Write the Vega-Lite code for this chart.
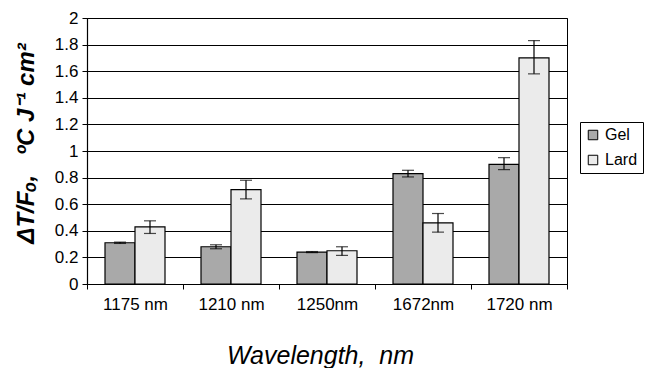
{
  "$schema": "https://vega.github.io/schema/vega-lite/v6.json",
  "width": 480,
  "height": 266,
  "autosize": {"type": "none"},
  "padding": {"left": 87, "top": 18, "right": 78, "bottom": 84},
  "background": "white",
  "config": {
    "font": "Liberation Sans",
    "view": {"stroke": "black", "strokeWidth": 1},
    "axis": {"labelFont": "Liberation Sans", "titleFont": "Liberation Sans", "domainColor": "black", "tickColor": "black", "labelColor": "black", "titleColor": "black", "gridColor": "black", "gridOpacity": 1},
    "legend": {"labelFont": "Liberation Sans"}
  },
  "data": {
    "values": [
      {"wl": "1175 nm", "series": "Gel", "value": 0.31, "lo": 0.305, "hi": 0.315},
      {"wl": "1175 nm", "series": "Lard", "value": 0.43, "lo": 0.38, "hi": 0.475},
      {"wl": "1210 nm", "series": "Gel", "value": 0.28, "lo": 0.265, "hi": 0.295},
      {"wl": "1210 nm", "series": "Lard", "value": 0.71, "lo": 0.64, "hi": 0.78},
      {"wl": "1250nm", "series": "Gel", "value": 0.24, "lo": 0.236, "hi": 0.244},
      {"wl": "1250nm", "series": "Lard", "value": 0.25, "lo": 0.215, "hi": 0.28},
      {"wl": "1672nm", "series": "Gel", "value": 0.83, "lo": 0.805, "hi": 0.855},
      {"wl": "1672nm", "series": "Lard", "value": 0.46, "lo": 0.39, "hi": 0.53},
      {"wl": "1720 nm", "series": "Gel", "value": 0.9, "lo": 0.86, "hi": 0.95},
      {"wl": "1720 nm", "series": "Lard", "value": 1.7, "lo": 1.58, "hi": 1.83}
    ]
  },
  "encoding": {
    "x": {
      "field": "wl", "type": "nominal", "sort": null,
      "scale": {"paddingInner": 0, "paddingOuter": 0},
      "axis": {
        "title": "Wavelength,\u00a0\u00a0nm", "labelAngle": 0, "tickBand": "extent", "tickSize": 5,
        "labelFontSize": 17, "labelPadding": 7, "domainWidth": 1.2,
        "titleFontSize": 25, "titleFontStyle": "italic", "titleFontWeight": "normal",
        "titleBaseline": "alphabetic", "titleY": 79, "titleX": 233
      }
    },
    "xOffset": {"field": "series", "type": "nominal", "scale": {"paddingInner": 0, "paddingOuter": 0.6}}
  },
  "layer": [
    {
      "mark": {"type": "bar", "stroke": "black", "strokeWidth": 1.2},
      "encoding": {
        "y": {
          "field": "value", "type": "quantitative",
          "scale": {"domain": [0, 2], "nice": false},
          "axis": {
            "values": [0, 0.2, 0.4, 0.6, 0.8, 1, 1.2, 1.4, 1.6, 1.8, 2],
            "format": ".1~f", "labelOverlap": false, "labelFlush": false,
            "title": "ΔT/Fₒ,\u00a0\u00a0\u00a0ºC J⁻¹ cm²", "grid": true, "tickSize": 5, "labelFontSize": 17,
            "labelPadding": 4, "domainWidth": 1.2,
            "titleFontSize": 24, "titleFontStyle": "italic", "titleFontWeight": "bold",
            "titleX": -54, "titleY": 125, "titleAlign": "center", "titleBaseline": "alphabetic"
          }
        },
        "fill": {
          "field": "series", "type": "nominal",
          "scale": {"domain": ["Gel", "Lard"], "range": ["#a9a9a9", "#ebebeb"]},
          "legend": {
            "title": null, "orient": "none", "legendX": 493, "legendY": 104,
            "symbolType": "square", "symbolSize": 90, "symbolStrokeColor": "black", "symbolStrokeWidth": 1,
            "labelFontSize": 16, "labelColor": "black", "strokeColor": "black", "padding": 5,
            "rowPadding": 9, "labelOffset": 4, "fillColor": "white"
          }
        }
      }
    },
    {
      "mark": {"type": "rule", "color": "black", "strokeWidth": 1.2},
      "encoding": {
        "y": {"field": "lo", "type": "quantitative",
          "axis": {
            "values": [0, 0.2, 0.4, 0.6, 0.8, 1, 1.2, 1.4, 1.6, 1.8, 2],
            "format": ".1~f", "labelOverlap": false, "labelFlush": false,
            "title": "ΔT/Fₒ,\u00a0\u00a0\u00a0ºC J⁻¹ cm²", "grid": true, "tickSize": 5, "labelFontSize": 17,
            "labelPadding": 4, "domainWidth": 1.2,
            "titleFontSize": 24, "titleFontStyle": "italic", "titleFontWeight": "bold",
            "titleX": -54, "titleY": 125, "titleAlign": "center", "titleBaseline": "alphabetic"
          }},
        "y2": {"field": "hi"}
      }
    },
    {
      "mark": {"type": "tick", "color": "black", "size": 12, "thickness": 1.2},
      "encoding": {"y": {"field": "lo", "type": "quantitative",
          "axis": {
            "values": [0, 0.2, 0.4, 0.6, 0.8, 1, 1.2, 1.4, 1.6, 1.8, 2],
            "format": ".1~f", "labelOverlap": false, "labelFlush": false,
            "title": "ΔT/Fₒ,\u00a0\u00a0\u00a0ºC J⁻¹ cm²", "grid": true, "tickSize": 5, "labelFontSize": 17,
            "labelPadding": 4, "domainWidth": 1.2,
            "titleFontSize": 24, "titleFontStyle": "italic", "titleFontWeight": "bold",
            "titleX": -54, "titleY": 125, "titleAlign": "center", "titleBaseline": "alphabetic"
          }}}
    },
    {
      "mark": {"type": "tick", "color": "black", "size": 12, "thickness": 1.2},
      "encoding": {"y": {"field": "hi", "type": "quantitative",
          "axis": {
            "values": [0, 0.2, 0.4, 0.6, 0.8, 1, 1.2, 1.4, 1.6, 1.8, 2],
            "format": ".1~f", "labelOverlap": false, "labelFlush": false,
            "title": "ΔT/Fₒ,\u00a0\u00a0\u00a0ºC J⁻¹ cm²", "grid": true, "tickSize": 5, "labelFontSize": 17,
            "labelPadding": 4, "domainWidth": 1.2,
            "titleFontSize": 24, "titleFontStyle": "italic", "titleFontWeight": "bold",
            "titleX": -54, "titleY": 125, "titleAlign": "center", "titleBaseline": "alphabetic"
          }}}
    }
  ]
}
